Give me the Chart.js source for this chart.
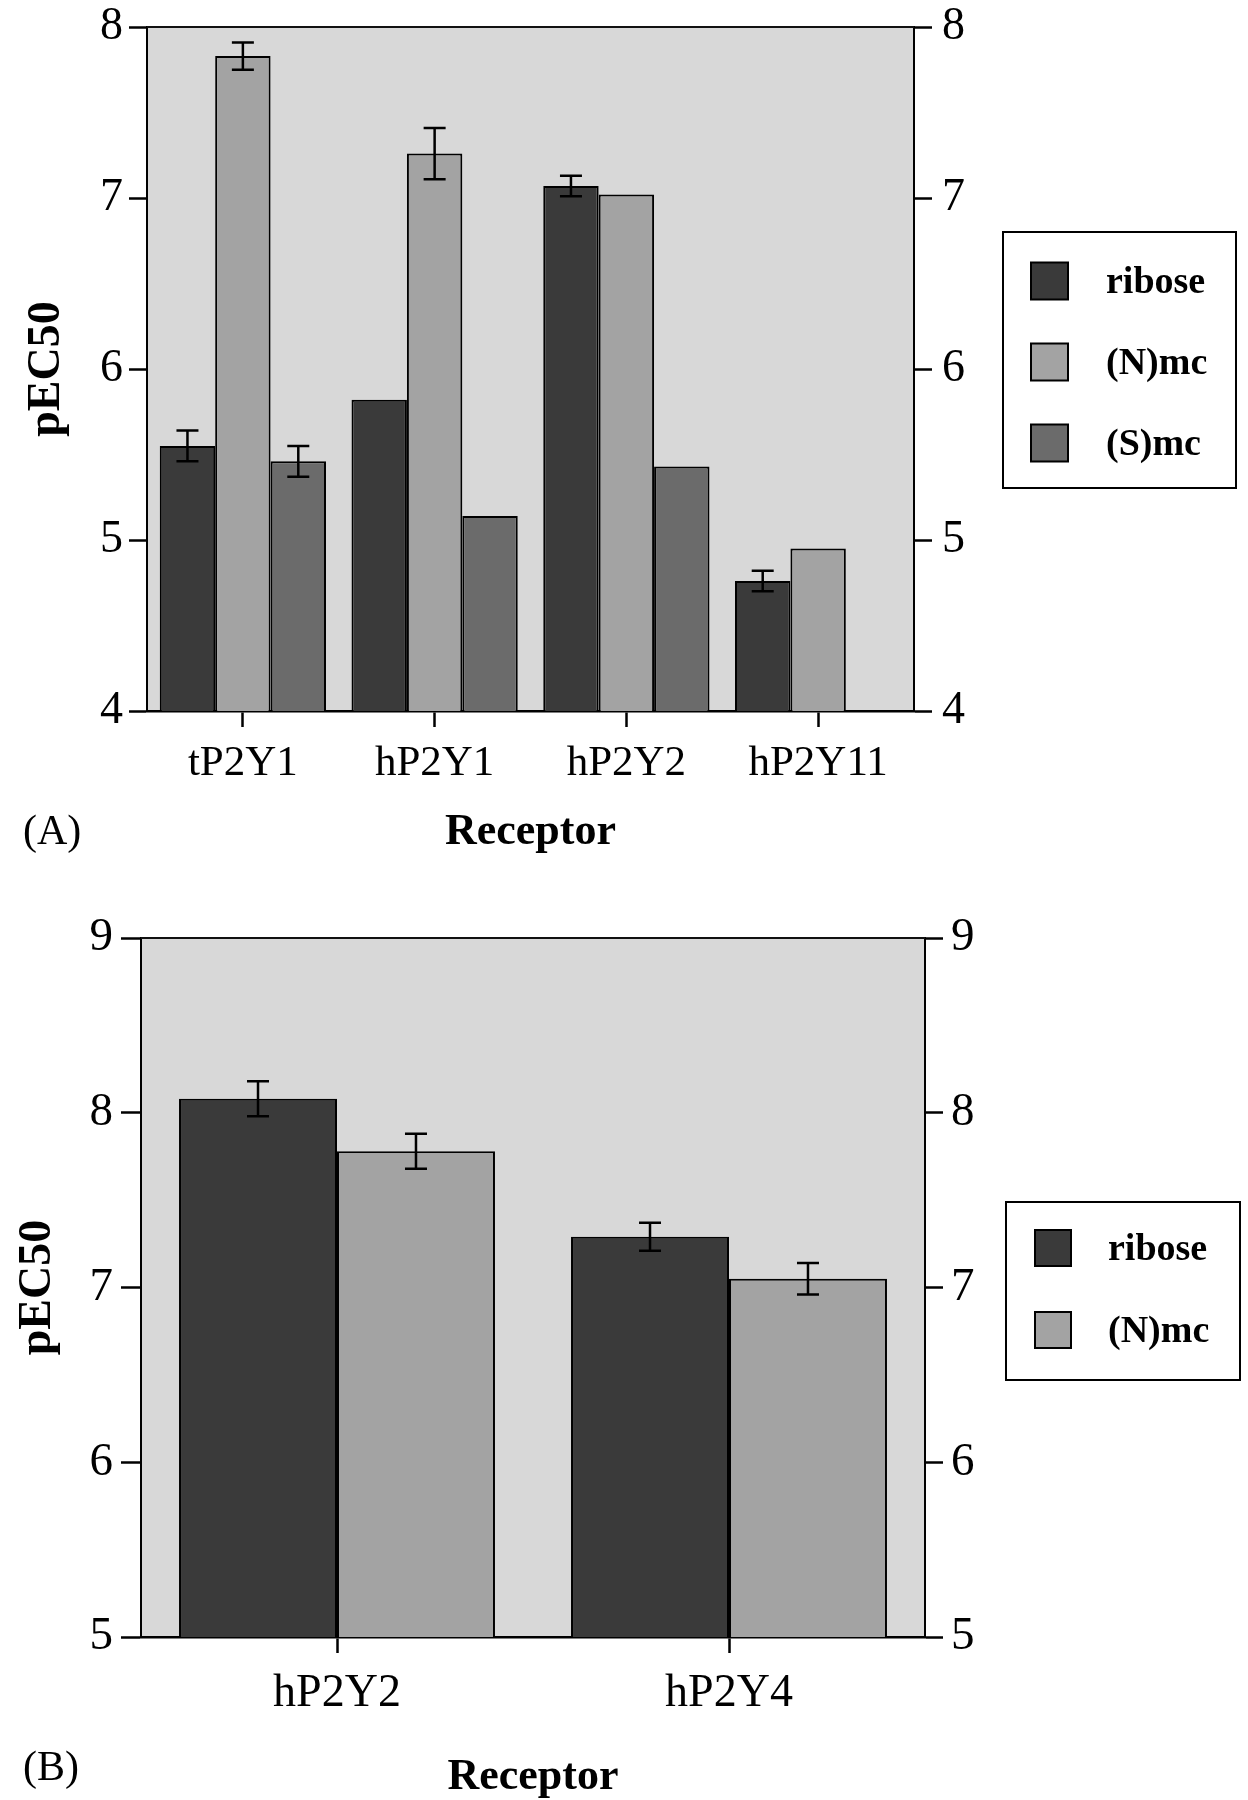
<!DOCTYPE html>
<html>
<head>
<meta charset="utf-8">
<title>pEC50 by receptor</title>
<script src="https://cdn.jsdelivr.net/npm/chart.js@4.4.1/dist/chart.umd.min.js"></script>
<style>
  body {
    margin: 0;
    background: #fff;
    width: 1248px;
    height: 1800px;
    position: relative;
    overflow: hidden;
    font-family: "Liberation Serif", serif;
  }
  .panel { position: absolute; left: 0; width: 1248px; }
  #wrapA { top: -30px; height: 900px; }
  #wrapB { top: 880px; height: 925px; }
  .tag { position: absolute; left: 23px; font-size: 42px; line-height: 1; color: #000; }
</style>
</head>
<body>
<div class="panel" id="wrapA"><canvas id="chartA"></canvas></div>
<div class="panel" id="wrapB"><canvas id="chartB"></canvas></div>
<div class="tag" style="top:809px">(A)</div>
<div class="tag" style="top:1745px">(B)</div>

<script>
// panel A
const receptorsA = ["tP2Y1", "hP2Y1", "hP2Y2", "hP2Y11"];
const riboseA = [5.55, 5.82, 7.07, 4.76];
const nmcA = [7.83, 7.26, 7.02, 4.95];
const smcA = [5.46, 5.14, 5.43, null];
const riboseErrA = [0.09, 0, 0.06, 0.06];
const nmcErrA = [0.08, 0.15, 0, 0];
const smcErrA = [0.09, 0, 0, 0];
const ticksA = [4, 5, 6, 7, 8];

// panel B
const receptorsB = ["hP2Y2", "hP2Y4"];
const riboseB = [8.08, 7.29];
const nmcB = [7.78, 7.05];
const riboseErrB = [0.1, 0.08];
const nmcErrB = [0.1, 0.09];
const ticksB = [5, 6, 7, 8, 9];

const SERIF = "'Liberation Serif', 'Times New Roman', serif";
const RIBOSE_COLOR = "#3a3a3a";
const NMC_COLOR = "#a3a3a3";
const SMC_COLOR = "#6b6b6b";
const PLOT_BG = "#d8d8d8";

// grey plot background plus the top frame line
const plotFrame = {
  id: "plotFrame",
  beforeDraw(chart) {
    const { ctx, chartArea: a } = chart;
    ctx.save();
    ctx.fillStyle = PLOT_BG;
    ctx.fillRect(a.left, a.top, a.right - a.left, a.bottom - a.top);
    ctx.restore();
  },
  afterDraw(chart) {
    const { ctx, chartArea: a } = chart;
    ctx.save();
    ctx.strokeStyle = "#111";
    ctx.lineWidth = 2;
    ctx.beginPath();
    ctx.moveTo(a.left, a.top);
    ctx.lineTo(a.right, a.top);
    ctx.stroke();
    ctx.restore();
  },
};

// I-beam error bars from each dataset's errors array
const errorBars = {
  id: "errorBars",
  afterDatasetsDraw(chart) {
    const { ctx } = chart;
    const yScale = chart.scales.y;
    chart.data.datasets.forEach((ds, i) => {
      if (!ds.errors) return;
      chart.getDatasetMeta(i).data.forEach((bar, j) => {
        const v = ds.data[j];
        const e = ds.errors[j];
        if (v == null || !e) return;
        const top = yScale.getPixelForValue(v + e);
        const bot = yScale.getPixelForValue(v - e);
        const half = 11;
        ctx.save();
        ctx.strokeStyle = "#000";
        ctx.lineWidth = 2.5;
        ctx.beginPath();
        ctx.moveTo(bar.x, top);
        ctx.lineTo(bar.x, bot);
        ctx.moveTo(bar.x - half, top);
        ctx.lineTo(bar.x + half, top);
        ctx.moveTo(bar.x - half, bot);
        ctx.lineTo(bar.x + half, bot);
        ctx.stroke();
        ctx.restore();
      });
    });
  },
};

// boxed legend off to the right of the plot
const boxLegend = {
  id: "boxLegend",
  afterDraw(chart, args, o) {
    const { ctx } = chart;
    ctx.save();
    ctx.fillStyle = "#fff";
    ctx.fillRect(o.x, o.y, o.w, o.h);
    ctx.strokeStyle = "#000";
    ctx.lineWidth = 2;
    ctx.strokeRect(o.x, o.y, o.w, o.h);
    ctx.font = "bold " + o.fontSize + "px " + SERIF;
    ctx.textBaseline = "middle";
    chart.data.datasets.forEach((ds, i) => {
      const cy = o.firstY + i * o.gap;
      ctx.fillStyle = ds.backgroundColor;
      ctx.fillRect(o.swatchX, cy - o.swatch / 2, o.swatch, o.swatch);
      ctx.lineWidth = 2;
      ctx.strokeRect(o.swatchX, cy - o.swatch / 2, o.swatch, o.swatch);
      ctx.fillStyle = "#000";
      ctx.fillText(ds.label, o.textX, cy + 2);
    });
    ctx.restore();
  },
};

function barSet(label, data, errors, color) {
  return {
    label,
    data,
    errors,
    backgroundColor: color,
    borderColor: "#000",
    borderWidth: 2,
    borderSkipped: false,
  };
}

function yAxis(position, ticks, fontSize, tickLength, padding, width, titlePad) {
  return {
    type: "linear",
    position,
    min: ticks[0],
    max: ticks[ticks.length - 1],
    afterBuildTicks: (s) => {
      s.ticks = ticks.map((value) => ({ value }));
    },
    grid: {
      drawOnChartArea: false,
      tickLength,
      tickWidth: 2.5,
      tickColor: "#000",
    },
    border: { display: true, color: "#000", width: 2 },
    ticks: {
      font: { size: fontSize, family: SERIF },
      color: "#000",
      padding,
    },
    title: titlePad
      ? {
          display: true,
          text: "pEC50",
          color: "#000",
          font: { size: 46, weight: "bold", family: SERIF },
          padding: { top: titlePad, bottom: 0 },
        }
      : { display: false },
    afterFit: (s) => {
      s.width = width;
    },
  };
}

function xAxis(fontSize, labelPad, height, titlePad) {
  return {
    type: "category",
    offset: true,
    grid: {
      offset: false,
      drawOnChartArea: false,
      tickLength: 16,
      tickWidth: 2.5,
      tickColor: "#000",
    },
    border: { display: true, color: "#000", width: 2.5 },
    ticks: {
      font: { size: fontSize, family: SERIF },
      color: "#000",
      padding: labelPad,
      maxRotation: 0,
    },
    title: {
      display: true,
      text: "Receptor",
      color: "#000",
      font: { size: 44, weight: "bold", family: SERIF },
      padding: { top: 0, bottom: titlePad },
    },
    afterFit: (s) => {
      s.height = height;
    },
  };
}

new Chart(document.getElementById("chartA"), {
  type: "bar",
  data: {
    labels: receptorsA,
    datasets: [
      barSet("ribose", riboseA, riboseErrA, RIBOSE_COLOR),
      barSet("(N)mc", nmcA, nmcErrA, NMC_COLOR),
      barSet("(S)mc", smcA, smcErrA, SMC_COLOR),
    ],
  },
  options: {
    responsive: true,
    maintainAspectRatio: false,
    animation: false,
    datasets: { bar: { categoryPercentage: 0.867, barPercentage: 1.0 } },
    layout: { padding: { top: 57, left: 0, right: 244, bottom: 0 } },
    scales: {
      x: xAxis(43, 11, 159, 11),
      y: yAxis("left", ticksA, 46, 18, 6, 147, 20),
      y2: yAxis("right", ticksA, 46, 18, 10, 90, 0),
    },
    plugins: {
      legend: { display: false },
      tooltip: { enabled: false },
      boxLegend: {
        x: 1003, y: 262, w: 233, h: 256,
        swatchX: 1031, swatch: 37, firstY: 311, gap: 81,
        textX: 1106, fontSize: 38,
      },
    },
  },
  plugins: [plotFrame, errorBars, boxLegend],
});

new Chart(document.getElementById("chartB"), {
  type: "bar",
  data: {
    labels: receptorsB,
    datasets: [
      barSet("ribose", riboseB, riboseErrB, RIBOSE_COLOR),
      barSet("(N)mc", nmcB, nmcErrB, NMC_COLOR),
    ],
  },
  options: {
    responsive: true,
    maintainAspectRatio: false,
    animation: false,
    datasets: { bar: { categoryPercentage: 0.806, barPercentage: 1.0 } },
    layout: { padding: { top: 58, left: 0, right: 233, bottom: 0 } },
    scales: {
      x: xAxis(46, 13, 168, 1),
      y: yAxis("left", ticksB, 47, 20, 8, 141, 11),
      y2: yAxis("right", ticksB, 47, 18, 8, 90, 0),
    },
    plugins: {
      legend: { display: false },
      tooltip: { enabled: false },
      boxLegend: {
        x: 1006, y: 322, w: 234, h: 178,
        swatchX: 1035, swatch: 36, firstY: 368, gap: 82,
        textX: 1108, fontSize: 38,
      },
    },
  },
  plugins: [plotFrame, errorBars, boxLegend],
});
</script>
</body>
</html>
